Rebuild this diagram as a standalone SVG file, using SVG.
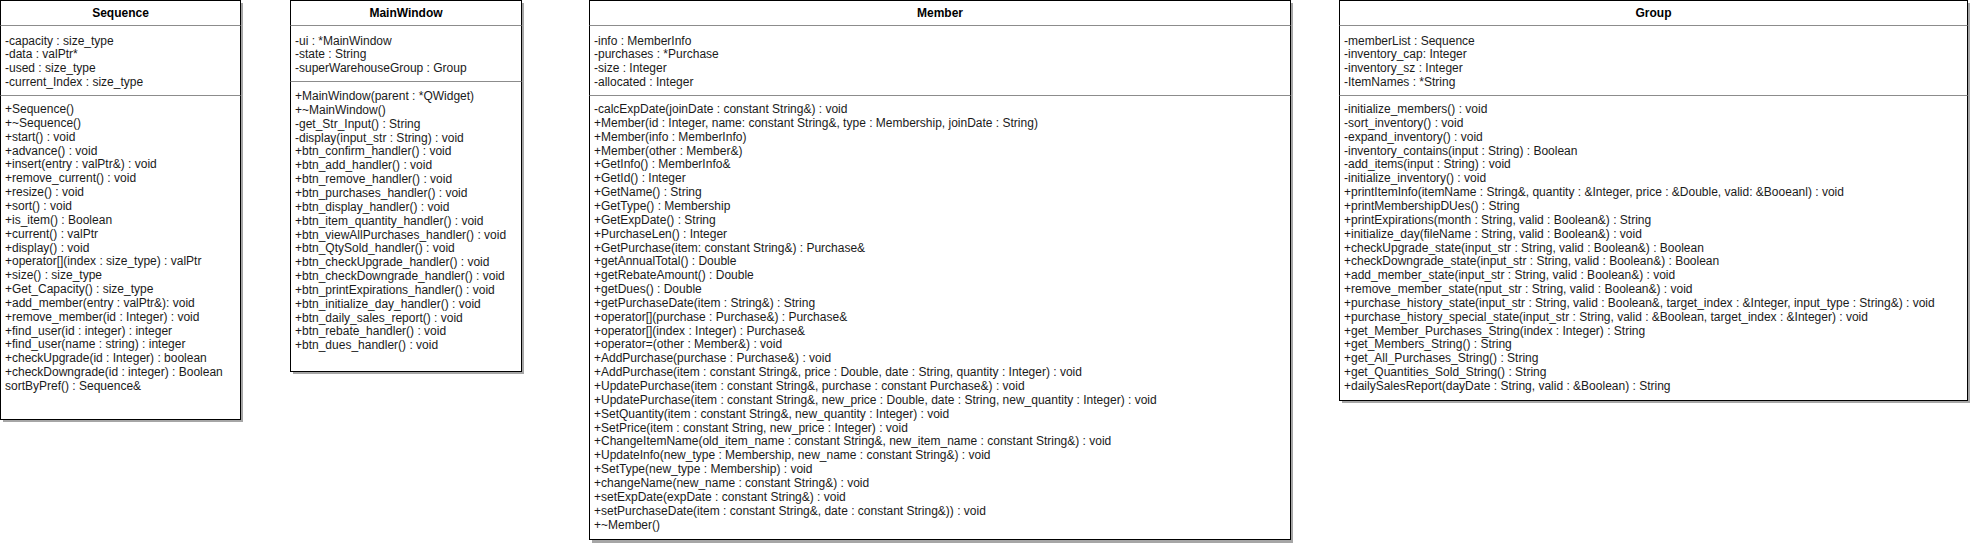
<svg xmlns="http://www.w3.org/2000/svg" width="1973" height="544" viewBox="0 0 1973 544">
<style>
.box{fill:#ffffff;stroke:#000000;stroke-width:1}
.shadow{fill:#a6a6a6}
.sep{stroke:#8c8c8c;stroke-width:1}
.title{font-family:"Liberation Sans",Arial,sans-serif;font-size:12px;font-weight:bold;fill:#000000;text-anchor:middle}
.t{font-family:"Liberation Sans",Arial,sans-serif;font-size:12px;fill:#1a1a1a}
</style>
<rect width="1973" height="544" fill="#ffffff"/>
<g id="Sequence">
<rect class="shadow" x="3" y="3" width="240" height="419"/>
<rect class="box" x="0.5" y="0.5" width="240" height="419"/>
<text class="title" x="120.5" y="17">Sequence</text>
<line class="sep" x1="0.5" y1="25.5" x2="240.5" y2="25.5"/>
<text class="t" y="44.5"><tspan x="5">-capacity : size_type</tspan><tspan x="5" dy="13.85">-data : valPtr*</tspan><tspan x="5" dy="13.85">-used : size_type</tspan><tspan x="5" dy="13.85">-current_Index : size_type</tspan></text>
<line class="sep" x1="0.5" y1="95.5" x2="240.5" y2="95.5"/>
<text class="t" y="113"><tspan x="5">+Sequence()</tspan><tspan x="5" dy="13.85">+~Sequence()</tspan><tspan x="5" dy="13.85">+start() : void</tspan><tspan x="5" dy="13.85">+advance() : void</tspan><tspan x="5" dy="13.85">+insert(entry : valPtr&amp;) : void</tspan><tspan x="5" dy="13.85">+remove_current() : void</tspan><tspan x="5" dy="13.85">+resize() : void</tspan><tspan x="5" dy="13.85">+sort() : void</tspan><tspan x="5" dy="13.85">+is_item() : Boolean</tspan><tspan x="5" dy="13.85">+current() : valPtr</tspan><tspan x="5" dy="13.85">+display() : void</tspan><tspan x="5" dy="13.85">+operator[](index : size_type) : valPtr</tspan><tspan x="5" dy="13.85">+size() : size_type</tspan><tspan x="5" dy="13.85">+Get_Capacity() : size_type</tspan><tspan x="5" dy="13.85">+add_member(entry : valPtr&amp;): void</tspan><tspan x="5" dy="13.85">+remove_member(id : Integer) : void</tspan><tspan x="5" dy="13.85">+find_user(id : integer) : integer</tspan><tspan x="5" dy="13.85">+find_user(name : string) : integer</tspan><tspan x="5" dy="13.85">+checkUpgrade(id : Integer) : boolean</tspan><tspan x="5" dy="13.85">+checkDowngrade(id : integer) : Boolean</tspan><tspan x="5" dy="13.85">sortByPref() : Sequence&amp;</tspan></text>
</g>
<g id="MainWindow">
<rect class="shadow" x="293" y="3" width="231" height="371"/>
<rect class="box" x="290.5" y="0.5" width="231" height="371"/>
<text class="title" x="406" y="17">MainWindow</text>
<line class="sep" x1="290.5" y1="25.5" x2="521.5" y2="25.5"/>
<text class="t" y="44.5"><tspan x="295">-ui : *MainWindow</tspan><tspan x="295" dy="13.85">-state : String</tspan><tspan x="295" dy="13.85">-superWarehouseGroup : Group</tspan></text>
<line class="sep" x1="290.5" y1="81.5" x2="521.5" y2="81.5"/>
<text class="t" y="100"><tspan x="295">+MainWindow(parent : *QWidget)</tspan><tspan x="295" dy="13.85">+~MainWindow()</tspan><tspan x="295" dy="13.85">-get_Str_Input() : String</tspan><tspan x="295" dy="13.85">-display(input_str : String) : void</tspan><tspan x="295" dy="13.85">+btn_confirm_handler() : void</tspan><tspan x="295" dy="13.85">+btn_add_handler() : void</tspan><tspan x="295" dy="13.85">+btn_remove_handler() : void</tspan><tspan x="295" dy="13.85">+btn_purchases_handler() : void</tspan><tspan x="295" dy="13.85">+btn_display_handler() : void</tspan><tspan x="295" dy="13.85">+btn_item_quantity_handler() : void</tspan><tspan x="295" dy="13.85">+btn_viewAllPurchases_handler() : void</tspan><tspan x="295" dy="13.85">+btn_QtySold_handler() : void</tspan><tspan x="295" dy="13.85">+btn_checkUpgrade_handler() : void</tspan><tspan x="295" dy="13.85">+btn_checkDowngrade_handler() : void</tspan><tspan x="295" dy="13.85">+btn_printExpirations_handler() : void</tspan><tspan x="295" dy="13.85">+btn_initialize_day_handler() : void</tspan><tspan x="295" dy="13.85">+btn_daily_sales_report() : void</tspan><tspan x="295" dy="13.85">+btn_rebate_handler() : void</tspan><tspan x="295" dy="13.85">+btn_dues_handler() : void</tspan></text>
</g>
<g id="Member">
<rect class="shadow" x="592" y="3" width="701" height="540"/>
<rect class="box" x="589.5" y="0.5" width="701" height="539"/>
<text class="title" x="940" y="17">Member</text>
<line class="sep" x1="589.5" y1="25.5" x2="1290.5" y2="25.5"/>
<text class="t" y="44.5"><tspan x="594">-info : MemberInfo</tspan><tspan x="594" dy="13.85">-purchases : *Purchase</tspan><tspan x="594" dy="13.85">-size : Integer</tspan><tspan x="594" dy="13.85">-allocated : Integer</tspan></text>
<line class="sep" x1="589.5" y1="95.5" x2="1290.5" y2="95.5"/>
<text class="t" y="113"><tspan x="594">-calcExpDate(joinDate : constant String&amp;) : void</tspan><tspan x="594" dy="13.85">+Member(id : Integer, name: constant String&amp;, type : Membership, joinDate : String)</tspan><tspan x="594" dy="13.85">+Member(info : MemberInfo)</tspan><tspan x="594" dy="13.85">+Member(other : Member&amp;)</tspan><tspan x="594" dy="13.85">+GetInfo() : MemberInfo&amp;</tspan><tspan x="594" dy="13.85">+GetId() : Integer</tspan><tspan x="594" dy="13.85">+GetName() : String</tspan><tspan x="594" dy="13.85">+GetType() : Membership</tspan><tspan x="594" dy="13.85">+GetExpDate() : String</tspan><tspan x="594" dy="13.85">+PurchaseLen() : Integer</tspan><tspan x="594" dy="13.85">+GetPurchase(item: constant String&amp;) : Purchase&amp;</tspan><tspan x="594" dy="13.85">+getAnnualTotal() : Double</tspan><tspan x="594" dy="13.85">+getRebateAmount() : Double</tspan><tspan x="594" dy="13.85">+getDues() : Double</tspan><tspan x="594" dy="13.85">+getPurchaseDate(item : String&amp;) : String</tspan><tspan x="594" dy="13.85">+operator[](purchase : Purchase&amp;) : Purchase&amp;</tspan><tspan x="594" dy="13.85">+operator[](index : Integer) : Purchase&amp;</tspan><tspan x="594" dy="13.85">+operator=(other : Member&amp;) : void</tspan><tspan x="594" dy="13.85">+AddPurchase(purchase : Purchase&amp;) : void</tspan><tspan x="594" dy="13.85">+AddPurchase(item : constant String&amp;, price : Double, date : String, quantity : Integer) : void</tspan><tspan x="594" dy="13.85">+UpdatePurchase(item : constant String&amp;, purchase : constant Purchase&amp;) : void</tspan><tspan x="594" dy="13.85">+UpdatePurchase(item : constant String&amp;, new_price : Double, date : String, new_quantity : Integer) : void</tspan><tspan x="594" dy="13.85">+SetQuantity(item : constant String&amp;, new_quantity : Integer) : void</tspan><tspan x="594" dy="13.85">+SetPrice(item : constant String, new_price : Integer) : void</tspan><tspan x="594" dy="13.85">+ChangeItemName(old_item_name : constant String&amp;, new_item_name : constant String&amp;) : void</tspan><tspan x="594" dy="13.85">+UpdateInfo(new_type : Membership, new_name : constant String&amp;) : void</tspan><tspan x="594" dy="13.85">+SetType(new_type : Membership) : void</tspan><tspan x="594" dy="13.85">+changeName(new_name : constant String&amp;) : void</tspan><tspan x="594" dy="13.85">+setExpDate(expDate : constant String&amp;) : void</tspan><tspan x="594" dy="13.85">+setPurchaseDate(item : constant String&amp;, date : constant String&amp;)) : void</tspan><tspan x="594" dy="13.85">+~Member()</tspan></text>
</g>
<g id="Group">
<rect class="shadow" x="1342" y="3" width="628" height="400"/>
<rect class="box" x="1339.5" y="0.5" width="628" height="400"/>
<text class="title" x="1653.5" y="17">Group</text>
<line class="sep" x1="1339.5" y1="25.5" x2="1967.5" y2="25.5"/>
<text class="t" y="44.5"><tspan x="1344">-memberList : Sequence</tspan><tspan x="1344" dy="13.85">-inventory_cap: Integer</tspan><tspan x="1344" dy="13.85">-inventory_sz : Integer</tspan><tspan x="1344" dy="13.85">-ItemNames : *String</tspan></text>
<line class="sep" x1="1339.5" y1="95.5" x2="1967.5" y2="95.5"/>
<text class="t" y="113"><tspan x="1344">-initialize_members() : void</tspan><tspan x="1344" dy="13.85">-sort_inventory() : void</tspan><tspan x="1344" dy="13.85">-expand_inventory() : void</tspan><tspan x="1344" dy="13.85">-inventory_contains(input : String) : Boolean</tspan><tspan x="1344" dy="13.85">-add_items(input : String) : void</tspan><tspan x="1344" dy="13.85">-initialize_inventory() : void</tspan><tspan x="1344" dy="13.85">+printItemInfo(itemName : String&amp;, quantity : &amp;Integer, price : &amp;Double, valid: &amp;Booeanl) : void</tspan><tspan x="1344" dy="13.85">+printMembershipDUes() : String</tspan><tspan x="1344" dy="13.85">+printExpirations(month : String, valid : Boolean&amp;) : String</tspan><tspan x="1344" dy="13.85">+initialize_day(fileName : String, valid : Boolean&amp;) : void</tspan><tspan x="1344" dy="13.85">+checkUpgrade_state(input_str : String, valid : Boolean&amp;) : Boolean</tspan><tspan x="1344" dy="13.85">+checkDowngrade_state(input_str : String, valid : Boolean&amp;) : Boolean</tspan><tspan x="1344" dy="13.85">+add_member_state(input_str : String, valid : Boolean&amp;) : void</tspan><tspan x="1344" dy="13.85">+remove_member_state(nput_str : String, valid : Boolean&amp;) : void</tspan><tspan x="1344" dy="13.85">+purchase_history_state(input_str : String, valid : Boolean&amp;, target_index : &amp;Integer, input_type : String&amp;) : void</tspan><tspan x="1344" dy="13.85">+purchase_history_special_state(input_str : String, valid : &amp;Boolean, target_index : &amp;Integer) : void</tspan><tspan x="1344" dy="13.85">+get_Member_Purchases_String(index : Integer) : String</tspan><tspan x="1344" dy="13.85">+get_Members_String() : String</tspan><tspan x="1344" dy="13.85">+get_All_Purchases_String() : String</tspan><tspan x="1344" dy="13.85">+get_Quantities_Sold_String() : String</tspan><tspan x="1344" dy="13.85">+dailySalesReport(dayDate : String, valid : &amp;Boolean) : String</tspan></text>
</g>
<g id="connectors"/>
</svg>
